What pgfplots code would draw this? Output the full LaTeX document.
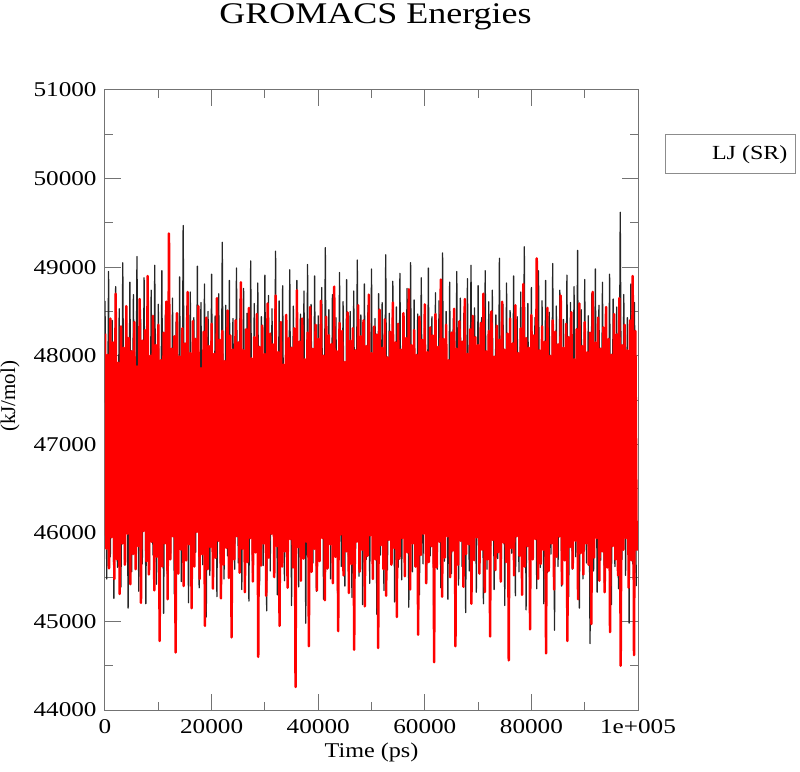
\documentclass[border=0pt]{standalone}
\usepackage{fontspec}
\setmainfont{Liberation Serif}
\usepackage{graphicx}
\usepackage{pgfplots}
\usepackage{pgfplotstable}
\pgfplotsset{compat=1.18}
\newcommand\sx[1]{\scalebox{1.2}[1]{#1}}

% LJ (SR) energy, series drawn in red (time step 250 ps)
\pgfplotstableread[row sep=\\, header=has colnames]{lj\\
48250\\45820\\48010\\45600\\48420\\45950\\48150\\45480\\48700\\45700\\47920\\45310\\48330\\45880\\48090\\45640\\48560\\45990\\48200\\45420\\
48050\\45760\\48380\\45590\\47880\\45850\\48640\\45210\\48170\\46020\\48290\\45680\\48900\\45530\\48000\\45900\\48450\\45350\\48120\\45730\\
48350\\44780\\47950\\45620\\48260\\45880\\48610\\45250\\49380\\45700\\48080\\45960\\48220\\44650\\48480\\45540\\47990\\45810\\48310\\45400\\
48140\\45690\\48720\\45870\\48030\\45150\\48390\\45620\\48190\\46010\\48560\\45480\\47860\\45760\\48270\\44950\\48430\\45590\\48110\\45840\\
48360\\45370\\48020\\45720\\48650\\45910\\48180\\45260\\48280\\45640\\47940\\45830\\48510\\45490\\48230\\44820\\48070\\45700\\48400\\45960\\
48150\\45550\\48830\\45820\\48060\\45330\\48300\\45670\\48540\\45940\\47970\\45450\\48210\\45780\\48470\\44600\\48100\\45630\\48340\\45880\\
48020\\45290\\48590\\45720\\48250\\45990\\48130\\45500\\48680\\45850\\48040\\44950\\48380\\45620\\47900\\45790\\48460\\45380\\48200\\45930\\
48090\\45610\\48310\\44260\\48740\\45840\\48160\\45460\\48420\\45710\\47960\\45900\\48260\\44720\\48550\\45560\\48080\\45820\\48350\\45350\\
48190\\45680\\48620\\45940\\48000\\45240\\48440\\45600\\48230\\45870\\48130\\45430\\48780\\45730\\48050\\44890\\48370\\45980\\48280\\45520\\
47930\\45790\\48490\\45320\\48170\\45650\\48310\\44680\\48060\\45900\\48570\\45560\\48220\\45810\\48400\\45170\\48110\\45740\\48690\\45970\\
48030\\45480\\48330\\45700\\48240\\44700\\48520\\45860\\48090\\45590\\48410\\45290\\47980\\45920\\48270\\45640\\48600\\45830\\48150\\45050\\
48360\\45710\\48070\\45940\\48480\\45510\\48200\\45780\\48750\\45360\\48120\\45880\\48290\\45620\\48010\\44850\\48440\\45750\\48180\\45990\\
48580\\45430\\48040\\45670\\48320\\45850\\48230\\44540\\48470\\45610\\48100\\45900\\48860\\45280\\48190\\45720\\48350\\45960\\47950\\45500\\
48260\\45800\\48530\\44720\\48080\\45640\\48390\\45910\\48160\\45390\\48640\\45760\\48020\\45870\\48300\\45200\\48450\\45690\\48210\\45950\\
48120\\45540\\48370\\45810\\48700\\45330\\48050\\45700\\48280\\44830\\48500\\45920\\47990\\45580\\48340\\45780\\48180\\45450\\48610\\45890\\
48070\\45670\\48250\\44560\\48420\\45830\\48140\\45520\\48570\\45960\\48030\\45740\\48310\\45300\\48810\\45620\\48200\\45850\\48090\\44910\\
48460\\45700\\48230\\45930\\49100\\45480\\48060\\45650\\48330\\45810\\48160\\44640\\48540\\45570\\48000\\45880\\48400\\45360\\48270\\45730\\
48130\\45960\\48680\\45420\\48090\\45690\\48360\\44780\\48210\\45840\\48490\\45600\\47960\\45910\\48300\\45250\\48590\\45770\\48110\\45530\\
48380\\45880\\48040\\45640\\48260\\44970\\48720\\45720\\48150\\45940\\48430\\45460\\48080\\45790\\48320\\45330\\48550\\45610\\48190\\44880\\
48010\\45850\\48470\\45700\\48240\\45520\\48650\\44500\\48120\\45810\\48350\\45940\\48060\\45380\\48400\\45690\\48900\\44620\\48280\\45800\\
}\redtab

% LJ (SR) energy, series drawn in black (time step 333.3 ps)
\pgfplotstableread[row sep=\\, header=has colnames]{lj\\
48620\\45480\\48950\\45730\\48400\\45260\\48780\\45610\\48530\\45390\\49050\\45700\\48460\\45150\\48830\\45560\\48690\\45820\\49120\\45340\\
48520\\45650\\48880\\45200\\48410\\45580\\48740\\45750\\49020\\45420\\48580\\45630\\48960\\45090\\48470\\45540\\49150\\45770\\48650\\45310\\
48380\\45600\\48890\\45450\\49470\\45690\\48560\\45210\\48720\\45570\\48430\\45780\\49010\\45380\\48600\\45640\\48810\\45050\\48500\\45520\\
48920\\45700\\48450\\45280\\48700\\45610\\49280\\45480\\48570\\45740\\48850\\45170\\48420\\45590\\48990\\45660\\48640\\45360\\48760\\45720\\
48480\\45230\\49070\\45550\\48590\\45800\\48820\\45410\\48440\\45630\\48910\\45120\\48680\\45570\\48530\\45750\\49180\\45300\\48620\\45680\\
48790\\45460\\48410\\45720\\48970\\45180\\48560\\45600\\48850\\45390\\48470\\45770\\48730\\44980\\49030\\45530\\48580\\45660\\48900\\45340\\
48450\\45710\\48770\\45250\\49220\\45590\\48520\\45480\\48690\\45760\\48430\\45140\\48940\\45620\\48610\\45400\\48860\\45730\\48500\\45270\\
48730\\45650\\49080\\45510\\48460\\45190\\48810\\45700\\48570\\45430\\48980\\45600\\48420\\45080\\48700\\45750\\48600\\45350\\49140\\45580\\
48480\\45690\\48840\\45220\\48550\\45610\\48930\\45470\\48410\\45780\\48760\\45160\\49050\\45560\\48630\\45710\\48470\\45300\\48880\\45650\\
48560\\45430\\48990\\45740\\48440\\45120\\48710\\45590\\48620\\45380\\49160\\45680\\48500\\45250\\48830\\45540\\48420\\45770\\48950\\45410\\
48650\\45620\\48480\\45100\\48870\\45570\\49020\\45740\\48540\\45330\\48790\\45660\\48430\\45200\\48960\\45590\\48610\\45760\\48740\\45360\\
48460\\45710\\49100\\45450\\48580\\45180\\48820\\45640\\48510\\45770\\48900\\45290\\48440\\45560\\48720\\45690\\49230\\45130\\48590\\45500\\
48770\\45740\\48430\\45370\\48960\\45610\\48620\\45200\\48850\\45550\\48490\\45760\\49040\\44900\\48560\\45620\\48740\\45400\\48410\\45710\\
48910\\45280\\48600\\45590\\48780\\45730\\49190\\45150\\48520\\45480\\48860\\45660\\48450\\44750\\48700\\45570\\48980\\45330\\48570\\45690\\
48830\\45440\\48470\\45760\\48920\\45190\\48640\\45620\\48550\\45370\\49620\\45700\\48690\\45520\\48430\\44980\\48810\\45650\\48600\\45400\\
}\blacktab

\begin{document}
\begin{tikzpicture}
\begin{axis}[
  name=ax,
  scale only axis,
  width=266.5pt, height=310pt,
  xmin=0, xmax=100000, ymin=44000, ymax=51000,
  scaled ticks=false,
  xtick={0,20000,40000,60000,80000,100000},
  xticklabels={\sx{0},\sx{20000},\sx{40000},\sx{60000},\sx{80000},\sx{1e+005}},
  ytick={44000,45000,46000,47000,48000,49000,50000,51000},
  yticklabels={\sx{44000},\sx{45000},\sx{46000},\sx{47000},\sx{48000},\sx{49000},\sx{50000},\sx{51000}},
  minor x tick num=1, minor y tick num=1,
  tick align=inside, xtick pos=both, ytick pos=both,
  major tick length=8pt, minor tick length=4pt,
  axis line style={black!55, line width=0.5pt},
  every tick/.style={black!55, line width=0.5pt},
  tick label style={font=\fontsize{10.5}{12}\selectfont, inner sep=0pt},
  xticklabel style={yshift=-4.5pt},
  yticklabel style={xshift=-4pt},
  every axis title shift=0pt,
  title={\sx{GROMACS Energies}},
  title style={at={(axis description cs:0.5075,1.108)}, anchor=base, font=\fontsize{15}{18}\selectfont},
  xlabel={\scalebox{1.15}[1]{Time (ps)}},
  xlabel style={at={(axis description cs:0.5,-0.0758)}, anchor=base, font=\fontsize{10.5}{12}\selectfont},
  ylabel={(kJ/mol)},
  ylabel style={at={(axis description cs:-0.178,0.506)}, anchor=center, font=\fontsize{10.5}{12}\selectfont},
  legend style={at={(axis description cs:1.0507,0.929)}, anchor=north west,
    draw=black!45, line width=0.4pt, inner xsep=4pt, inner ysep=0pt,
    font=\fontsize{10}{12}\selectfont, nodes={inner sep=0pt},
    /tikz/every even column/.append style={column sep=0pt}},
  legend image code/.code={\path[draw=none, fill=none] (0pt,-9.75pt) rectangle (19.3pt,9.75pt);},
]
\addplot[black!85, line width=0.65pt, line join=round] table[x expr=\coordindex*1000/3, y=lj] {\blacktab};
\addlegendentry{\sx{LJ (SR)}}
\addplot[red, line width=1.25pt, line join=round, forget plot] table[x expr=\coordindex*250, y=lj] {\redtab};
\end{axis}
\pgfresetboundingbox
\path[use as bounding box] ([shift={(-52.5pt,-30.5pt)}]ax.south west) rectangle ([shift={(81pt,45pt)}]ax.north east);
\end{tikzpicture}
\end{document}
